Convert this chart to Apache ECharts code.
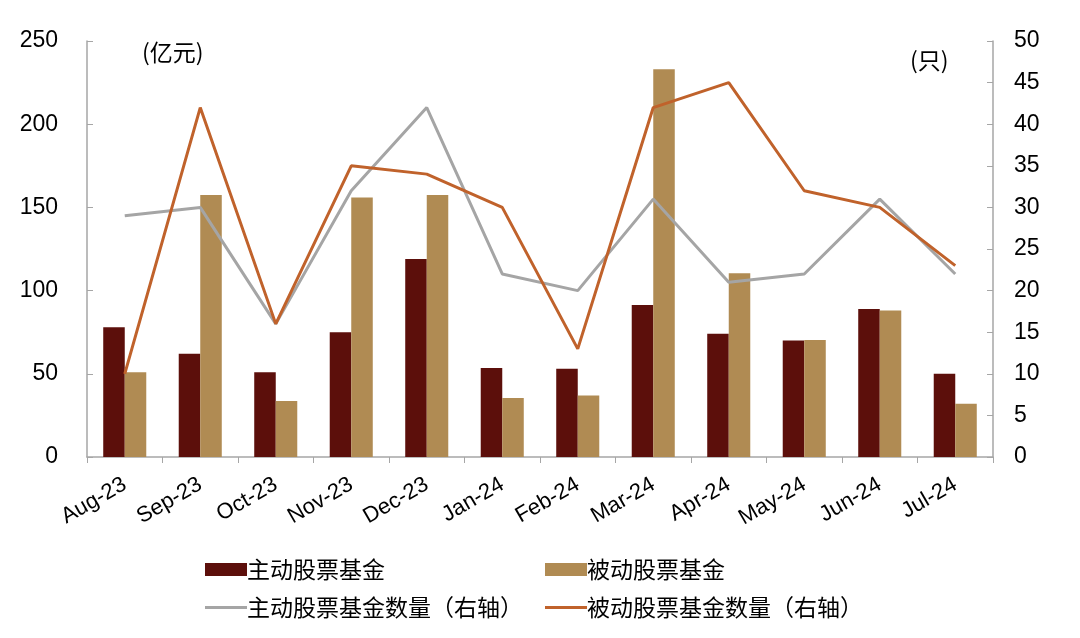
<!DOCTYPE html>
<html><head><meta charset="utf-8">
<script src="https://cdn.jsdelivr.net/npm/echarts@6/dist/echarts.min.js"></script>
<style>html,body{margin:0;padding:0;background:#fff}#c{width:1080px;height:638px}</style>
</head><body><div id="c"></div>
<script>
const categories = ['Aug-23','Sep-23','Oct-23','Nov-23','Dec-23','Jan-24','Feb-24','Mar-24','Apr-24','May-24','Jun-24','Jul-24'];
const activeAmount = [78, 62, 51, 75, 119, 53.5, 53, 91.3, 74, 70, 89, 50];
const passiveAmount = [51, 157.5, 33.7, 156, 157.5, 35.5, 37, 233, 110.5, 70.3, 88, 32];
const activeCount = [29, 30, 16, 32, 42, 22, 20, 31, 21, 22, 31, 22];
const passiveCount = [10, 42, 16, 35, 34, 30, 13, 42, 45, 32, 30, 23];
const names = ['主动股票基金','被动股票基金','主动股票基金数量（右轴）','被动股票基金数量（右轴）'];
const colors = ['#5C0F0B','#B08B53','#A5A5A5','#C0622B'];
const font = '"Liberation Sans", Arial, "Noto Sans CJK SC", sans-serif';
const lgText = {fontSize: 23, color: '#000', fontFamily: '"Noto Sans CJK SC", sans-serif', padding: [0,0,0,-5]};
const lineIcon = 'path://M0,5.5 L44,5.5 L44,8.5 L0,8.5 Z';
const chart = echarts.init(document.getElementById('c'));
chart.setOption({
  animation: false,
  color: colors,
  grid: {left: 87, right: 87, top: 41, bottom: 181},
  legend: [
    {left: 200, top: 553, itemWidth: 42, itemHeight: 13, textStyle: lgText, icon: 'rect', data: [names[0]]},
    {left: 540, top: 553, itemWidth: 42, itemHeight: 13, textStyle: lgText, icon: 'rect', data: [names[1]]},
    {left: 200, top: 591, itemWidth: 42, itemHeight: 13, textStyle: lgText, data: [{name: names[2], icon: lineIcon}]},
    {left: 540, top: 591, itemWidth: 42, itemHeight: 13, textStyle: lgText, data: [{name: names[3], icon: lineIcon}]}
  ],
  graphic: [
    {type: 'text', left: 142, top: 41, style: {text: '(亿元)', fontSize: 23, fill: '#000', fontFamily: '"Noto Sans CJK SC", sans-serif'}},
    {type: 'text', left: 910, top: 49, style: {text: '(只)', fontSize: 23, fill: '#000', fontFamily: '"Noto Sans CJK SC", sans-serif'}}
  ],
  xAxis: {
    type: 'category', data: categories,
    axisLine: {lineStyle: {color: '#A6A6A6', width: 1.5}},
    axisTick: {show: true, length: 6, lineStyle: {color: '#A6A6A6'}},
    axisLabel: {rotate: 30, fontSize: 22, color: '#000', fontFamily: font, margin: 26}
  },
  yAxis: [
    {type: 'value', min: 0, max: 250, interval: 50,
     axisLine: {show: true, lineStyle: {color: '#A6A6A6', width: 1.5}},
     axisTick: {show: true, inside: true, length: 6, lineStyle: {color: '#A6A6A6'}},
     splitLine: {show: false},
     axisLabel: {fontSize: 23, color: '#000', fontFamily: font, margin: 29}},
    {type: 'value', min: 0, max: 50, interval: 5,
     axisLine: {show: true, lineStyle: {color: '#A6A6A6', width: 1.5}},
     axisTick: {show: true, inside: true, length: 6, lineStyle: {color: '#A6A6A6'}},
     splitLine: {show: false},
     axisLabel: {fontSize: 23, color: '#000', fontFamily: font, margin: 21}}
  ],
  series: [
    {name: names[0], type: 'bar', data: activeAmount, barGap: '0%', barCategoryGap: '43%', itemStyle: {color: colors[0]}},
    {name: names[1], type: 'bar', data: passiveAmount, barGap: '0%', barCategoryGap: '43%', itemStyle: {color: colors[1]}},
    {name: names[2], type: 'line', yAxisIndex: 1, data: activeCount, symbol: 'none', lineStyle: {width: 3, color: colors[2]}, itemStyle: {color: colors[2]}},
    {name: names[3], type: 'line', yAxisIndex: 1, data: passiveCount, symbol: 'none', lineStyle: {width: 3, color: colors[3]}, itemStyle: {color: colors[3]}}
  ]
});
</script></body></html>
